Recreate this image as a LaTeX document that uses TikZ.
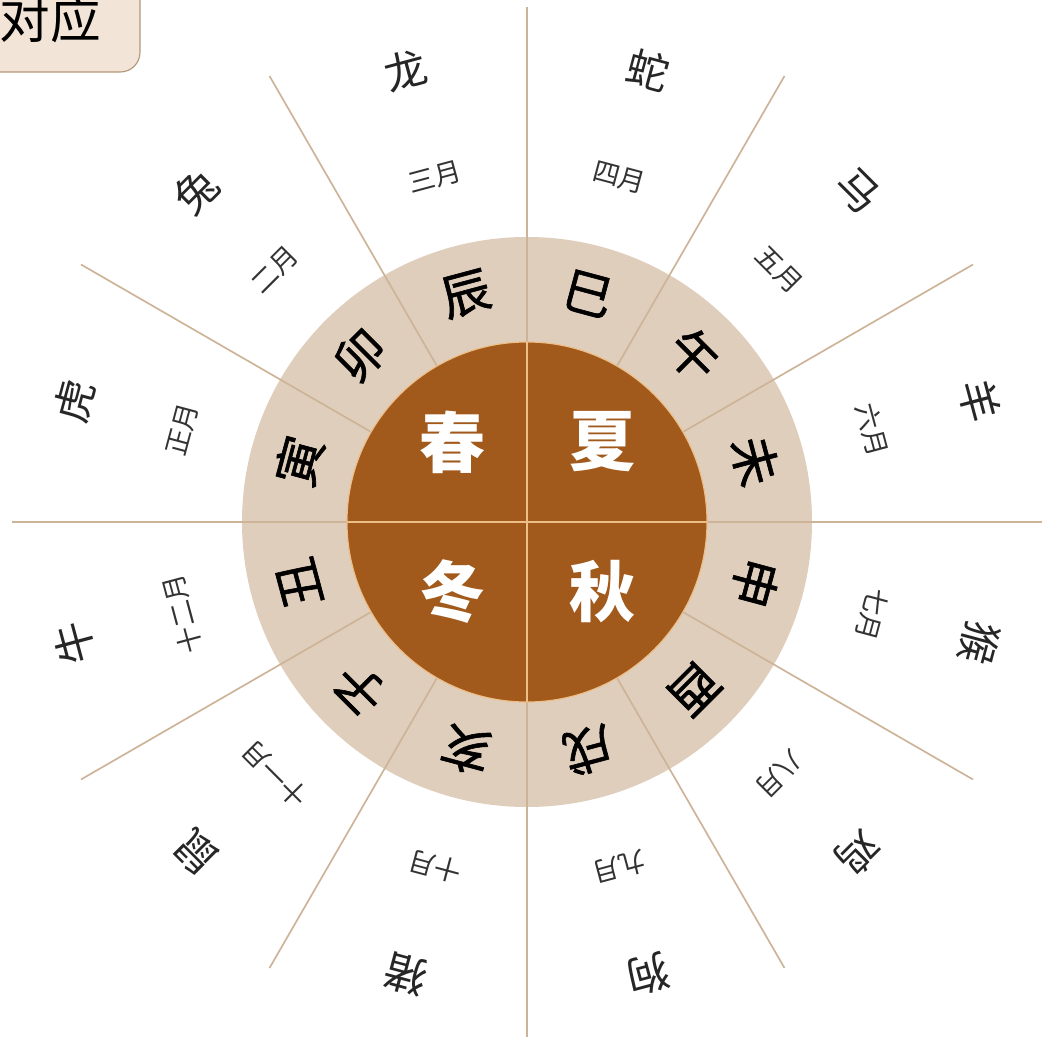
\documentclass[tikz,border=0pt]{standalone}
\usepackage{fontspec}
\setmainfont{Noto Sans CJK SC}
\newfontfamily\branchfont[FakeBold=1.2]{Noto Sans CJK SC}
\usetikzlibrary{calc}

\definecolor{seasonbrown}{RGB}{161,90,28}
\definecolor{ringtan}{RGB}{223,206,188}
\definecolor{spokeline}{RGB}{205,180,152}
\definecolor{dividerline}{RGB}{238,190,135}
\definecolor{boxfill}{RGB}{242,229,216}
\definecolor{boxline}{RGB}{180,150,120}

\tikzset{
  spoke/.style={spokeline,line width=1.2pt},
  branch/.style={inner sep=0pt,font=\branchfont\fontsize{35}{35}\selectfont},
  season/.style={inner sep=0pt,white,font=\fontsize{47}{47}\selectfont\bfseries},
  animal/.style={inner sep=0pt,black!85,font=\fontsize{30}{30}\selectfont},
  monthlabel/.style={inner sep=0pt,black!80,font=\fontsize{19}{19}\selectfont}
}

\begin{document}
\begin{tikzpicture}[x=0.025cm,y=0.025cm]
  \useasboundingbox (-527,-522) rectangle (535,522);
  \coordinate (O) at (0,0);
  % title box, cut at the page edge
  \draw[boxline,fill=boxfill,line width=0.8pt,rounded corners=14] (-580,450) rectangle (-387,580);
  \node[anchor=east,inner sep=0pt,font=\fontsize{36}{36}\selectfont] (title) at (-426,503) {对应};
  % ring of branches
  \fill[ringtan] (O) circle (285);
  \foreach \a in {0,30,...,330}
    \draw[spoke] (\a:180) -- (\a:515);
  % seasons
  \fill[seasonbrown] (O) circle (180);
  \draw[dividerline,line width=0.8pt] (O) circle (180);
  \draw[dividerline,line width=1pt] (-180,0) -- (180,0);
  \draw[dividerline,line width=1pt] (0,-180) -- (0,180);
  \node[season] (spring) at (-74,80) {春};
  \node[season] (summer) at (76,80) {夏};
  \node[season] (winter) at (-74,-70) {冬};
  \node[season] (autumn) at (76,-70) {秋};
  % branches, months and animals
  \foreach \b/\m/\z [count=\i] in {辰/三月/龙,巳/四月/蛇,午/五月/马,未/六月/羊,申/七月/猴,酉/八月/鸡,戌/九月/狗,亥/十月/猪,子/十一月/鼠,丑/十二月/牛,寅/正月/虎,卯/二月/兔}{
    \pgfmathsetmacro\ang{105-30*(\i-1)}
    \node[branch,rotate=\ang-90] (br\i) at (\ang:236) {\b};
    \node[monthlabel,rotate=\ang-90] (mo\i) at (\ang:357) {\m};
    \node[animal,rotate=\ang-90] (an\i) at (\ang:468) {\z};
  }
\end{tikzpicture}
\end{document}
